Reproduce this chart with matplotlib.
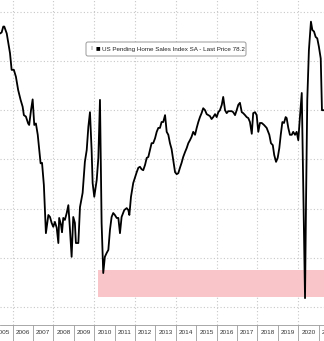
import numpy as np
import matplotlib

matplotlib.use("Agg")
import matplotlib.pyplot as plt
import matplotlib.transforms as mtransforms
from matplotlib.patches import FancyBboxPatch

plt.rcParams["font.family"] = ["Liberation Sans", "DejaVu Sans"]

# US pending home sales index SA (decimal year, index level)
dates = [
    2005.38, 2005.46, 2005.54, 2005.59, 2005.71, 2005.78, 2005.87, 2005.95, 2006.06, 2006.16,
    2006.27, 2006.39, 2006.49, 2006.55, 2006.65, 2006.76, 2006.81, 2006.90, 2006.98, 2007.06,
    2007.14, 2007.23, 2007.30, 2007.37, 2007.44, 2007.53, 2007.63, 2007.75, 2007.83, 2007.91,
    2007.99, 2008.07, 2008.16, 2008.24, 2008.28, 2008.37, 2008.42, 2008.48, 2008.56, 2008.65,
    2008.73, 2008.81, 2008.89, 2008.97, 2009.05, 2009.10, 2009.22, 2009.30, 2009.43, 2009.54,
    2009.63, 2009.71, 2009.79, 2009.87, 2009.92, 2010.00, 2010.12, 2010.20, 2010.28, 2010.36,
    2010.44, 2010.52, 2010.61, 2010.69, 2010.77, 2010.85, 2010.93, 2011.01, 2011.10, 2011.18,
    2011.26, 2011.34, 2011.47, 2011.59, 2011.67, 2011.72, 2011.80, 2011.91, 2012.00, 2012.08,
    2012.16, 2012.24, 2012.32, 2012.40, 2012.49, 2012.57, 2012.65, 2012.73, 2012.81, 2012.89,
    2012.98, 2013.06, 2013.14, 2013.22, 2013.30, 2013.38, 2013.47, 2013.55, 2013.63, 2013.71,
    2013.79, 2013.87, 2013.96, 2014.04, 2014.12, 2014.20, 2014.28, 2014.36, 2014.45, 2014.53,
    2014.61, 2014.69, 2014.77, 2014.85, 2014.94, 2015.02, 2015.10, 2015.18, 2015.26, 2015.34,
    2015.43, 2015.51, 2015.59, 2015.67, 2015.75, 2015.83, 2015.92, 2016.00, 2016.08, 2016.16,
    2016.25, 2016.32, 2016.41, 2016.49, 2016.57, 2016.65, 2016.74, 2016.81, 2016.90, 2016.98,
    2017.06, 2017.14, 2017.23, 2017.30, 2017.39, 2017.47, 2017.55, 2017.63, 2017.72, 2017.79,
    2017.88, 2017.96, 2018.04, 2018.12, 2018.21, 2018.32, 2018.45, 2018.58, 2018.66, 2018.75,
    2018.82, 2018.91, 2018.99, 2019.07, 2019.14, 2019.22, 2019.30, 2019.38, 2019.43, 2019.51,
    2019.59, 2019.68, 2019.75, 2019.84, 2019.92, 2020.00, 2020.08, 2020.17, 2020.33, 2020.38,
    2020.44, 2020.52, 2020.62, 2020.69, 2020.77, 2020.85, 2020.93, 2021.01, 2021.10, 2021.16,
    2021.24,
]
index_sa = [
    125.6, 125.8, 127.0, 127.0, 125.6, 123.9, 121.6, 118.2, 118.2, 116.8,
    114.1, 112.1, 110.7, 109.0, 108.7, 107.3, 107.0, 110.0, 112.2, 107.0,
    107.3, 105.0, 102.0, 99.2, 99.3, 94.8, 85.0, 88.7, 88.3, 87.1,
    86.3, 87.3, 86.1, 83.0, 88.1, 86.7, 85.2, 88.1, 87.7, 89.1,
    90.7, 85.7, 80.2, 88.3, 87.1, 83.0, 83.0, 90.3, 93.2, 99.5,
    101.9, 106.6, 109.6, 101.9, 95.2, 92.4, 95.8, 100.3, 112.1, 87.1,
    76.9, 80.2, 81.0, 81.6, 85.7, 88.3, 89.1, 88.7, 88.1, 88.1,
    85.0, 88.3, 89.7, 90.1, 89.7, 88.7, 92.4, 95.2, 96.4, 97.4,
    98.3, 98.5, 98.0, 97.8, 98.9, 100.3, 100.5, 101.9, 103.3, 103.3,
    104.3, 105.6, 106.4, 106.4, 107.6, 107.6, 109.0, 105.6, 105.0, 103.3,
    102.1, 99.9, 97.4, 97.0, 97.2, 98.3, 99.3, 100.5, 101.5, 102.3,
    103.3, 103.9, 104.6, 105.6, 105.0, 106.4, 107.6, 108.6, 109.4, 110.4,
    110.0, 109.2, 109.0, 108.8, 108.2, 108.6, 109.2, 108.6, 109.6, 110.0,
    111.1, 112.7, 110.0, 109.4, 109.8, 109.8, 109.8, 109.6, 109.0, 110.0,
    111.1, 111.5, 109.6, 109.4, 109.0, 108.6, 108.4, 107.6, 105.2, 109.4,
    109.6, 109.0, 105.6, 107.4, 107.4, 107.0, 106.4, 105.0, 103.3, 102.9,
    100.9, 99.5, 100.3, 102.3, 105.0, 107.6, 107.4, 108.6, 108.4, 106.4,
    105.0, 105.0, 105.6, 105.0, 105.6, 103.9, 108.6, 113.5, 71.8, 91.7,
    112.1, 122.2, 128.0, 126.3, 126.0, 124.9, 124.6, 122.9, 120.5, 110.0,
    110.0,
]

# shaded band (index levels) and where it starts
band_low, band_high = 72.1, 77.5
band_start, band_end = 2010.18, 2022.0

years = list(range(2005, 2021))
cut_year = 2021  # label half past the right edge
legend_text = "US Pending Home Sales Index SA - Last Price 78.2"

W, H = 324, 341
fig = plt.figure(figsize=(W / 100, H / 100), dpi=100)
ax = fig.add_axes([0, 16 / H, 1, 325 / H])

ax.fill_between([band_start, band_end], band_low, band_high, color="#f9c5c9", lw=0, zorder=1)
ax.plot(dates, index_sa, color="black", lw=1.3, zorder=3)

ax.set_xlim(2005.38, 2021.26)
ax.set_ylim(66.34, 132.4)

# grid every two years / every 10 index points
for yr in range(2006, 2021, 2):
    ax.axvline(yr, color="#c8c8c8", lw=0.8, ls=(0, (1, 2)), zorder=0.5)
for lvl in range(70, 131, 10):
    ax.axhline(lvl, color="#c8c8c8", lw=0.8, ls=(0, (1, 2)), zorder=0.5)

ax.set_yticks([])
ax.set_xticks(list(range(2006, 2022)))
ax.set_xticklabels([])
ax.tick_params(axis="x", which="major", direction="out", length=11.5, width=0.6, color="#9a9a9a")
ax.set_xticks([y + 0.5 for y in years], minor=True)
ax.set_xticklabels([str(y) for y in years], minor=True, fontsize=4.6, color="#333333")
ax.tick_params(axis="x", which="minor", length=0, pad=3.5)

trans = mtransforms.blended_transform_factory(ax.transData, fig.transFigure)
ax.text(cut_year + 0.5, 8.5 / H, str(cut_year), transform=trans, ha="center", va="center",
        fontsize=4.6, color="#333333", clip_on=False)

for side in ["top", "left", "right"]:
    ax.spines[side].set_visible(False)
ax.spines["bottom"].set_color("#9a9a9a")
ax.spines["bottom"].set_linewidth(0.6)

# legend box (pixel layout converted to axes fractions)
def ax_x(px):
    return px / W

def ax_y(py):
    return (325 - py) / 325

box = FancyBboxPatch((ax_x(86), ax_y(56)), ax_x(246) - ax_x(86), ax_y(42) - ax_y(56),
                     boxstyle="round,pad=0,rounding_size=0.006", transform=ax.transAxes,
                     fc="white", ec="#9a9a9a", lw=0.7, zorder=5)
ax.add_patch(box)
ax.text(ax_x(91.5), ax_y(49), "\u2016", transform=ax.transAxes, fontsize=3.5, color="#a0a0a0",
        ha="center", va="center", zorder=6)
ax.text(ax_x(97.5), ax_y(49), "\u25a0", transform=ax.transAxes, fontsize=5.5, color="black",
        ha="center", va="center", zorder=6)
ax.text(ax_x(102), ax_y(49), legend_text, transform=ax.transAxes, fontsize=4.5,
        color="#222222", ha="left", va="center", zorder=6)

fig.savefig("out.png", dpi=100)
